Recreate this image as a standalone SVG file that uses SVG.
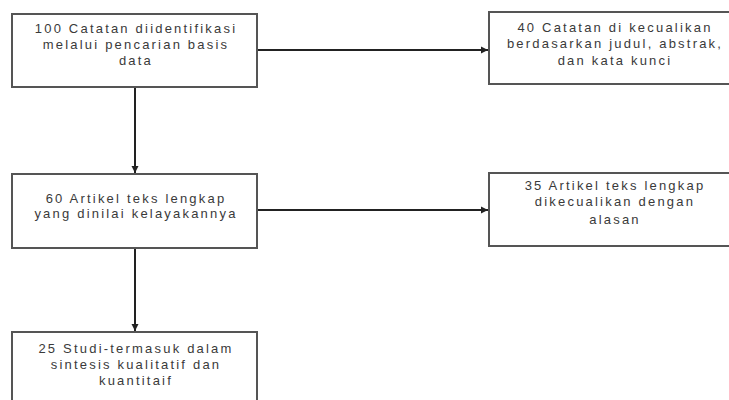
<svg xmlns="http://www.w3.org/2000/svg" width="729" height="400" viewBox="0 0 729 400">
<defs>
<marker id="ah" markerWidth="8" markerHeight="8" refX="7" refY="4" orient="auto" markerUnits="userSpaceOnUse">
<path d="M0,0.5 L7,4 L0,7.5 Z" fill="#222"/>
</marker>
<style>
.box{fill:#fff;stroke:#555;stroke-width:2}
.t{font-family:"Liberation Sans","Arial",sans-serif;font-size:13px;fill:#3a3a3a;text-anchor:middle;letter-spacing:2.2px}
.c{stroke:#222;stroke-width:2;fill:none;marker-end:url(#ah)}
</style>
</defs>
<rect width="729" height="400" fill="#fff"/>
<g id="connectors">
<line class="c" x1="257" y1="50" x2="488" y2="50"/>
<line class="c" x1="135" y1="87" x2="135" y2="173"/>
<line class="c" x1="257" y1="210" x2="488" y2="210"/>
<line class="c" x1="135" y1="248" x2="135" y2="331"/>
</g>
<g id="n1">
<rect class="box" x="12" y="14" width="245" height="73"/>
<text class="t" x="136" y="33">100 Catatan diidentifikasi</text>
<text class="t" x="136" y="49">melalui pencarian basis</text>
<text class="t" x="136" y="65">data</text>
</g>
<g id="n2">
<rect class="box" x="489" y="12" width="250" height="72"/>
<text class="t" x="615" y="32">40 Catatan di kecualikan</text>
<text class="t" x="615" y="48">berdasarkan judul, abstrak,</text>
<text class="t" x="615" y="65">dan kata kunci</text>
</g>
<g id="n3">
<rect class="box" x="12" y="174" width="245" height="74"/>
<text class="t" x="136" y="203">60 Artikel teks lengkap</text>
<text class="t" x="136" y="218">yang dinilai kelayakannya</text>
</g>
<g id="n4">
<rect class="box" x="489" y="173" width="250" height="73"/>
<text class="t" x="615" y="190">35 Artikel teks lengkap</text>
<text class="t" x="615" y="206">dikecualikan dengan</text>
<text class="t" x="615" y="224">alasan</text>
</g>
<g id="n5">
<rect class="box" x="12" y="332" width="245" height="80"/>
<text class="t" x="136" y="353">25 Studi-termasuk dalam</text>
<text class="t" x="136" y="369">sintesis kualitatif dan</text>
<text class="t" x="136" y="385">kuantitaif</text>
</g>
</svg>
